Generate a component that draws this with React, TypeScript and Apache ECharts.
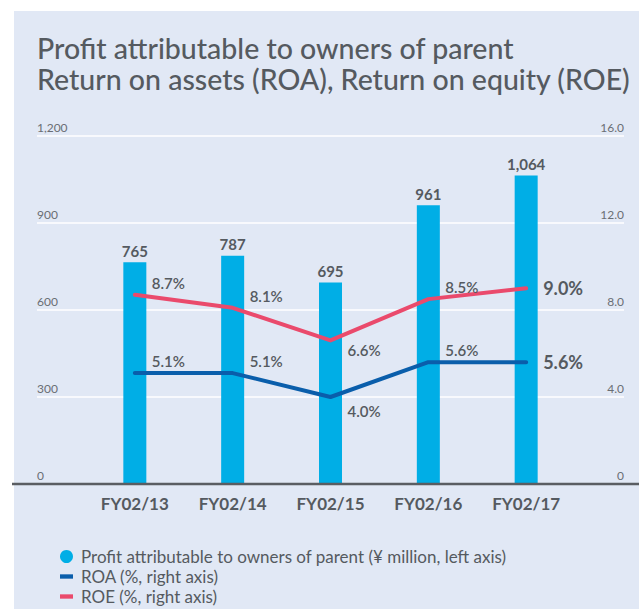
import React, { useEffect, useRef } from "react";
import * as echarts from "echarts";

const categories = ["FY02/13", "FY02/14", "FY02/15", "FY02/16", "FY02/17"];
const profit = [765, 787, 695, 961, 1064];
const roa = [5.1, 5.1, 4.0, 5.6, 5.6];
const roe = [8.7, 8.1, 6.6, 8.5, 9.0];
const leftTicks = { min: 0, max: 1200, interval: 300 };
const rightTicks = { min: 0, max: 16, interval: 4 };
const titleLines = [
  "Profit attributable to owners of parent",
  "Return on assets (ROA), Return on equity (ROE)",
];
const legendNames = [
  "Profit attributable to owners of parent (¥ million, left axis)",
  "ROA (%, right axis)",
  "ROE (%, right axis)",
];

const FONT = "Lato";
const TEXT = "#555a60";
const BAR = "#00aee6";
const ROA_C = "#0a5eab";
const ROE_C = "#ea4a6c";
const BG = "#e1e8f5";
const linePath = "path://M0,0 L12,0 L12,4 L0,4 Z";

export default function App() {
  const ref = useRef<HTMLDivElement>(null);
  useEffect(() => {
    document.body.style.margin = "0";
    const chart = echarts.init(ref.current!, null, { renderer: "svg" });
    const pad = (arr: any[]) => ["-", ...arr, "-"];
    const lineData = (arr: number[], belowOffset: number) =>
      pad(
        arr.map((v, i) => {
          if (i === 2) return { value: v, label: { offset: [0, belowOffset] } };
          if (i === arr.length - 1)
            return { value: v, label: { offset: [0, 0], fontSize: 18, fontWeight: "bold" } };
          return v;
        })
      );
    const lineLabel = {
      show: true,
      position: "right",
      distance: 16,
      offset: [0, -12],
      color: TEXT,
      fontFamily: FONT,
      fontSize: 15,
      fontWeight: 600,
      formatter: (p: any) => Number(p.value).toFixed(1) + "%",
    };
    const titleStyle = { fontFamily: FONT, fontSize: 28.5, fontWeight: 500, lineHeight: 28, color: TEXT };
    const legendIcons = ["circle", linePath, linePath];
    chart.setOption({
      animation: false,
      backgroundColor: "#ffffff",
      textStyle: { fontFamily: FONT },
      graphic: [
        {
          type: "rect",
          z: -10,
          silent: true,
          shape: { x: 14, y: 11, width: 639, height: 609 },
          style: { fill: BG },
        },
        {
          type: "line",
          z: 10,
          silent: true,
          shape: { x1: 12, y1: 484, x2: 639, y2: 484 },
          style: { stroke: "#5a5d62", lineWidth: 2.5 },
        },
      ],
      title: [
        { text: titleLines[0], left: 37, top: 34, padding: 0, textStyle: titleStyle },
        { text: titleLines[1], left: 37, top: 65, padding: 0, textStyle: titleStyle },
      ],
      legend: legendNames.map((name, i) => ({
        orient: "vertical",
        left: 60,
        top: 548 + i * 20,
        padding: 0,
        itemWidth: 13,
        itemHeight: 13,
        symbolKeepAspect: true,
        textStyle: { fontFamily: FONT, fontSize: 17, color: TEXT, padding: [0, 0, 0, 3] },
        data: [{ name, icon: legendIcons[i] }],
      })),
      grid: { left: 37, right: 15, top: 136, bottom: 125 },
      xAxis: {
        type: "category",
        boundaryGap: false,
        data: ["", ...categories, ""],
        axisLine: { show: false },
        axisTick: { show: false },
        axisLabel: {
          margin: 11,
          color: TEXT,
          fontFamily: FONT,
          fontSize: 17,
          fontWeight: "bold",
        },
        splitLine: { show: false },
      },
      yAxis: [
        {
          type: "value",
          ...leftTicks,
          axisLine: { show: false },
          axisTick: { show: false },
          splitLine: { show: true, lineStyle: { color: "#ffffff", width: 1.5 } },
          axisLabel: {
            inside: true,
            margin: 0,
            verticalAlign: "bottom",
            padding: [0, 0, 3, 0],
            color: "#6a6e74",
            fontFamily: FONT,
            fontSize: 12,
            formatter: (v: number) => v.toLocaleString("en-US"),
          },
        },
        {
          type: "value",
          ...rightTicks,
          axisLine: { show: false },
          axisTick: { show: false },
          splitLine: { show: false },
          axisLabel: {
            inside: true,
            margin: 0,
            verticalAlign: "bottom",
            padding: [0, 0, 3, 0],
            color: "#6a6e74",
            fontFamily: FONT,
            fontSize: 12,
            formatter: (v: number) => (v === 0 ? "0" : v.toFixed(1)),
          },
        },
      ],
      series: [
        {
          name: legendNames[0],
          type: "bar",
          yAxisIndex: 0,
          barWidth: 23,
          data: pad(profit),
          itemStyle: { color: BAR },
          label: {
            show: true,
            position: "top",
            distance: 4,
            color: TEXT,
            fontFamily: FONT,
            fontSize: 15,
            fontWeight: "bold",
            formatter: (p: any) => Number(p.value).toLocaleString("en-US"),
          },
        },
        {
          name: legendNames[1],
          type: "line",
          yAxisIndex: 1,
          data: lineData(roa, 14),
          symbol: "circle",
          symbolSize: 2,
          itemStyle: { color: ROA_C },
          lineStyle: { color: ROA_C, width: 4, cap: "round", join: "round" },
          label: lineLabel,
        },
        {
          name: legendNames[2],
          type: "line",
          yAxisIndex: 1,
          data: lineData(roe, 10),
          symbol: "circle",
          symbolSize: 2,
          itemStyle: { color: ROE_C },
          lineStyle: { color: ROE_C, width: 4, cap: "round", join: "round" },
          label: lineLabel,
        },
      ],
    });
    return () => chart.dispose();
  }, []);
  return (
    <div
      ref={ref}
      style={{ position: "absolute", left: 0, top: 0, width: 639, height: 609 }}
    />
  );
}
